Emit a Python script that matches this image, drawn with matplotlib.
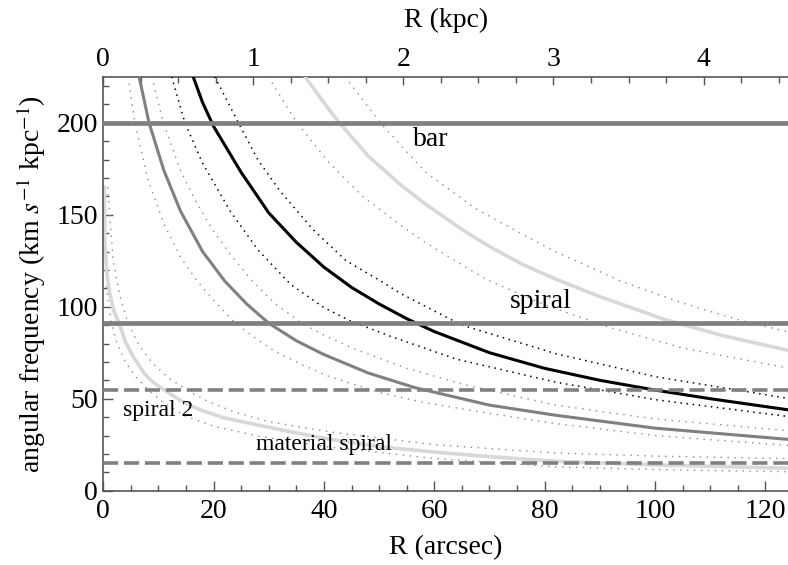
import numpy as np
import matplotlib.pyplot as plt
from matplotlib.ticker import MultipleLocator, FixedLocator

plt.rcParams['font.family'] = ['Liberation Serif', 'DejaVu Serif']
plt.rcParams['mathtext.fontset'] = 'stix'

# --- curves: R (arcsec) and angular frequency (km/s/kpc) ---
# Omega (black)
om_r = [16.3, 18, 20, 25, 30, 35, 40, 45, 50, 55, 60, 70, 80, 90, 100, 110, 124.5]
om_w = [225, 211, 198, 173, 151, 135, 121.5, 110.5, 101.5, 93.5, 86.5, 75, 66.5, 60, 54.7, 50, 43.8]
om_hi_r = [20.2, 24.5, 28, 32, 38, 44, 50, 54, 65, 82, 100, 124.5]
om_hi_w = [225, 200, 180, 163, 142, 125, 114.5, 107, 90, 74.5, 62, 50]
om_lo_r = [12.4, 14.8, 18, 23, 28, 34, 40, 45, 52, 64, 82, 100, 124.5]
om_lo_w = [225, 200, 178, 152, 131, 112, 99.5, 92, 84, 71.5, 59, 49.5, 40.2]

# Omega - kappa/4 (dark grey)
mq_r = [6.5, 8.3, 11, 14, 18, 22, 26, 30, 35, 40, 48, 56.5, 70, 82, 100, 124.5]
mq_w = [225, 200, 174, 152, 130, 114, 101.5, 91, 81.5, 74, 64, 56, 46.5, 41, 34, 27.8]
mq_hi_r = [8.8, 10.9, 14, 17, 20, 23, 27, 31, 36, 40, 46, 55, 65, 82, 100, 124.5]
mq_hi_w = [225, 200, 174, 156, 141, 128.5, 114, 102, 91, 84.5, 76.5, 66.5, 58, 46.5, 39, 32.5]
mq_lo_r = [4.5, 5.75, 8, 11, 14, 17, 20, 23.3, 27, 31, 36, 41, 50, 58, 70, 82, 100, 124.5]
mq_lo_w = [225, 200, 170, 145, 127, 114, 103.5, 93, 84, 76, 68.5, 62, 53.5, 48, 42, 36.5, 30, 24.5]

# Omega + kappa/2 (light grey)
ilr_r = [36.6, 40.2, 42.5, 48, 54, 58.3, 65, 70.4, 76, 82, 90, 101.8, 112, 124.5]
ilr_w = [225, 210, 201, 182, 166, 156, 142, 132, 123, 115, 105.5, 93, 84.5, 76]
ilr_hi_r = [43.8, 50.5, 58.3, 67.4, 75, 81.9, 94, 105, 115, 124.5]
ilr_hi_w = [225, 199, 173.4, 153.5, 141, 130, 113.6, 102, 93, 86]
ilr_lo_r = [29.9, 35.1, 41, 47, 53.8, 58.3, 69.3, 80, 91.5, 105, 124.5]
ilr_lo_w = [225, 200, 178, 160, 144.5, 135, 115, 101, 89, 77.5, 66.5]

# Omega - kappa/2 (light grey)
olr_r = [0.2, 0.3, 0.6, 1.2, 2, 2.9, 4, 5.4, 7.5, 9, 11.2, 14, 17.5, 22, 28.4, 34, 41, 50, 60, 70, 82, 100, 124.5]
olr_w = [165, 135, 120, 107, 97, 91, 81, 73, 63.5, 59, 54.5, 49, 44, 39.5, 35.5, 32, 28, 24, 21, 18.5, 16, 14, 12.2]
olr_hi_r = [0.8, 1.8, 3, 4.5, 6.5, 9, 12, 15.3, 19, 23.6, 30, 41, 60, 82, 100, 124.5]
olr_hi_w = [165, 125, 106, 91, 79, 69, 61, 54.5, 48.5, 43, 37.5, 32, 25, 20.5, 18.8, 17.4]
olr_lo_r = [0.3, 0.7, 1.5, 2.5, 4, 6, 8.1, 11, 15, 20, 28.4, 40.2, 60, 82, 100, 124.5]
olr_lo_w = [130, 108, 91, 80, 70, 61.5, 55, 47.5, 40.5, 35, 29.5, 24, 17.5, 13, 11.5, 10.3]

# pattern speeds
pattern_names = ['bar', 'spiral', 'spiral 2', 'material spiral']
pattern_speeds = [200, 91, 55, 15]

kpc_ticks = [0, 1, 2, 3, 4]
ARCSEC_PER_KPC = 27.2

DARK = '#808080'
LIGHT = '#d8d8d8'
AXC = '#555555'

fig = plt.figure(figsize=(7.88, 5.65), dpi=100)
ax = fig.add_axes([0.131, 0.1315, 0.869, 0.7327])

dot_grey = dict(color='#8a8a8a', lw=1.0, linestyle=(0, (1, 4)))
dot_black = dict(color='black', lw=1.1, linestyle=(0, (1, 3)))

ax.plot(olr_lo_r, olr_lo_w, **dot_grey)
ax.plot(olr_hi_r, olr_hi_w, **dot_grey)
ax.plot(mq_lo_r, mq_lo_w, **dot_grey)
ax.plot(mq_hi_r, mq_hi_w, **dot_grey)
ax.plot(ilr_lo_r, ilr_lo_w, **dot_grey)
ax.plot(ilr_hi_r, ilr_hi_w, **dot_grey)
ax.plot(om_lo_r, om_lo_w, **dot_black)
ax.plot(om_hi_r, om_hi_w, **dot_black)

ax.plot(olr_r, olr_w, color=LIGHT, lw=2.6)
ax.plot(ilr_r, ilr_w, color=LIGHT, lw=2.6)
ax.plot(mq_r, mq_w, color=DARK, lw=2.2)
ax.plot(om_r, om_w, color='black', lw=2.2)

ax.axhline(pattern_speeds[0], color=DARK, lw=3.4, zorder=5)
ax.axhline(pattern_speeds[1], color=DARK, lw=3.4, zorder=5)
ax.axhline(pattern_speeds[2], color=DARK, lw=2.6, dashes=(4.2, 1.6), zorder=5)
ax.axhline(pattern_speeds[3], color=DARK, lw=2.6, dashes=(4.2, 1.6), zorder=5)

ax.text(59.3, 191, pattern_names[0], fontsize=20, ha='center', va='center')
ax.text(79.3, 103, pattern_names[1], fontsize=20, ha='center', va='center')
ax.text(10.0, 43.5, pattern_names[2], fontsize=17, ha='center', va='center')
ax.text(40.0, 25.0, pattern_names[3], fontsize=17, ha='center', va='center')

ax.set_xlim(0, 124.1)
ax.set_ylim(0, 225)
ax.xaxis.set_major_locator(MultipleLocator(20))
ax.xaxis.set_minor_locator(MultipleLocator(5))
ax.yaxis.set_major_locator(MultipleLocator(50))
ax.yaxis.set_minor_locator(MultipleLocator(10))

for s in ['top', 'right']:
    ax.spines[s].set_visible(False)
for s in ['bottom', 'left']:
    ax.spines[s].set_color(AXC)
    ax.spines[s].set_linewidth(1.2)

ax.tick_params(which='both', direction='in', color=AXC, labelsize=20, width=1)
ax.tick_params(which='major', length=7)
ax.tick_params(which='minor', length=4)
ax.tick_params(axis='x', pad=6)
ax.tick_params(axis='y', pad=4)

ax.set_xlabel('R (arcsec)', fontsize=20, labelpad=8)
ax.set_ylabel(r'angular frequency (km $s^{-1}$ kpc$^{-1}$)', fontsize=20, labelpad=6)

top = ax.secondary_xaxis('top', functions=(lambda r: r / ARCSEC_PER_KPC,
                                            lambda k: k * ARCSEC_PER_KPC))
top.xaxis.set_major_locator(FixedLocator(kpc_ticks))
top.xaxis.set_minor_locator(MultipleLocator(0.25))
top.spines['top'].set_color(AXC)
top.spines['top'].set_linewidth(1.2)
top.tick_params(which='both', direction='in', color=AXC, labelsize=20, width=1)
top.tick_params(which='major', length=6)
top.tick_params(which='minor', length=4)
top.set_xlabel('R (kpc)', fontsize=20, labelpad=14)

fig.savefig('out.png', dpi=100)
